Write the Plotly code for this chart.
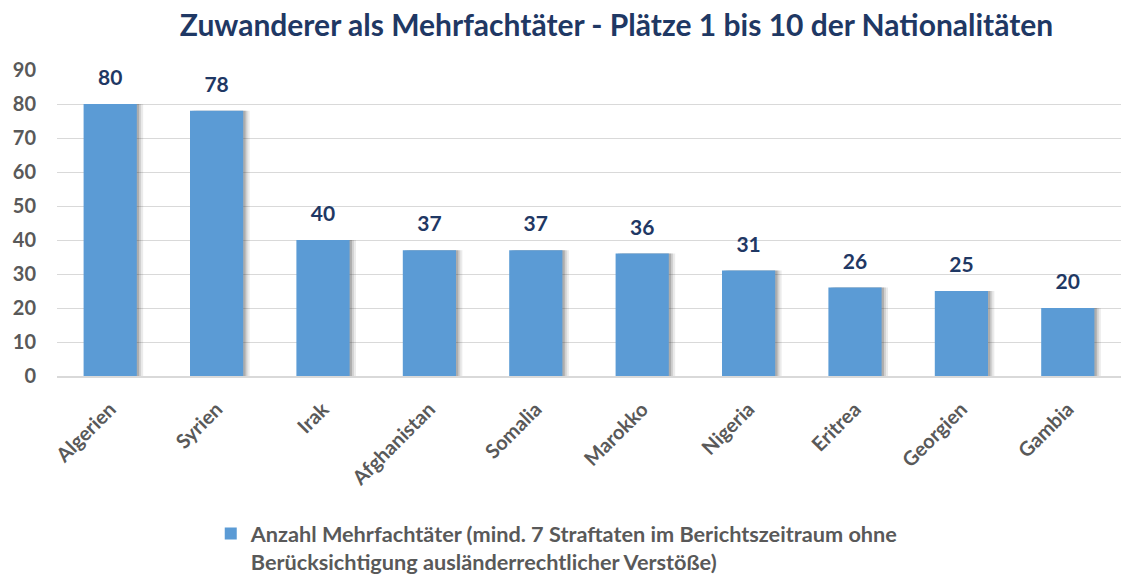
import plotly.graph_objects as go

countries = ["Algerien", "Syrien", "Irak", "Afghanistan", "Somalia",
             "Marokko", "Nigeria", "Eritrea", "Georgien", "Gambia"]
offenders = [80, 78, 40, 37, 37, 36, 31, 26, 25, 20]
y_ticks = [0, 10, 20, 30, 40, 50, 60, 70, 80, 90]

series_name = ("<b>Anzahl Mehrfachtäter (mind. 7 Straftaten im Berichtszeitraum ohne<br>"
               "Berücksichtigung ausländerrechtlicher Verstöße)</b>")

FONT = "Lato, 'Open Sans', sans-serif"
BAR_W = 0.5

fig = go.Figure()

# layered drop shadow to the right of each bar (fades outward)
for shift, alpha in [(0.06, 0.10), (0.04, 0.15), (0.022, 0.24)]:
    fig.add_trace(go.Bar(
        x=countries, y=offenders, width=BAR_W, offset=-BAR_W / 2 + shift,
        marker=dict(color=f"rgba(60,60,60,{alpha})", line=dict(width=0)),
        showlegend=False, hoverinfo="skip",
    ))

fig.add_trace(go.Bar(
    x=countries, y=offenders, width=BAR_W, offset=-BAR_W / 2,
    name=series_name,
    marker=dict(color="#5B9BD5", line=dict(width=0)),
))

# value labels above the bars
fig.add_trace(go.Scatter(
    x=countries, y=offenders, mode="markers+text",
    text=[f"<b>{v}</b>" for v in offenders], textposition="top center",
    marker=dict(size=20, opacity=0),
    textfont=dict(family=FONT, size=21, color="#1F3864"),
    showlegend=False, hoverinfo="skip", cliponaxis=False,
))

fig.update_layout(
    width=1121, height=583,
    barmode="overlay",
    paper_bgcolor="white", plot_bgcolor="white",
    margin=dict(l=57, r=0, t=70, b=207),
    title=dict(
        text="<b>Zuwanderer als Mehrfachtäter - Plätze 1 bis 10 der Nationalitäten</b>",
        x=0.55, xanchor="center", y=0.957, yanchor="middle",
        font=dict(family=FONT, size=30, color="#1F3864"),
    ),
    xaxis=dict(
        tickangle=-45, showgrid=False, zeroline=False, automargin=False,
        showline=True, linecolor="#D9D9D9", linewidth=1.5,
        ticks="", ticklabelstandoff=12,
        tickfont=dict(family=FONT, size=20, color="#595959", weight="bold"),
        range=[-0.5, 9.5],
    ),
    yaxis=dict(
        range=[0, 90], tickvals=y_ticks, showgrid=True, automargin=False,
        gridcolor="#D9D9D9", gridwidth=1, zeroline=False,
        ticks="", ticklabelstandoff=20,
        tickfont=dict(family=FONT, size=20, color="#595959", weight="bold"),
    ),
    showlegend=True,
    legend=dict(
        orientation="h", xref="container", x=0.188, xanchor="left",
        yref="container", y=-0.024, yanchor="bottom",
        font=dict(family=FONT, size=21.7, color="#595959", weight="bold"),
        itemwidth=30, valign="top",
    ),
    bargap=0.5,
)

fig.write_html("out.html")
